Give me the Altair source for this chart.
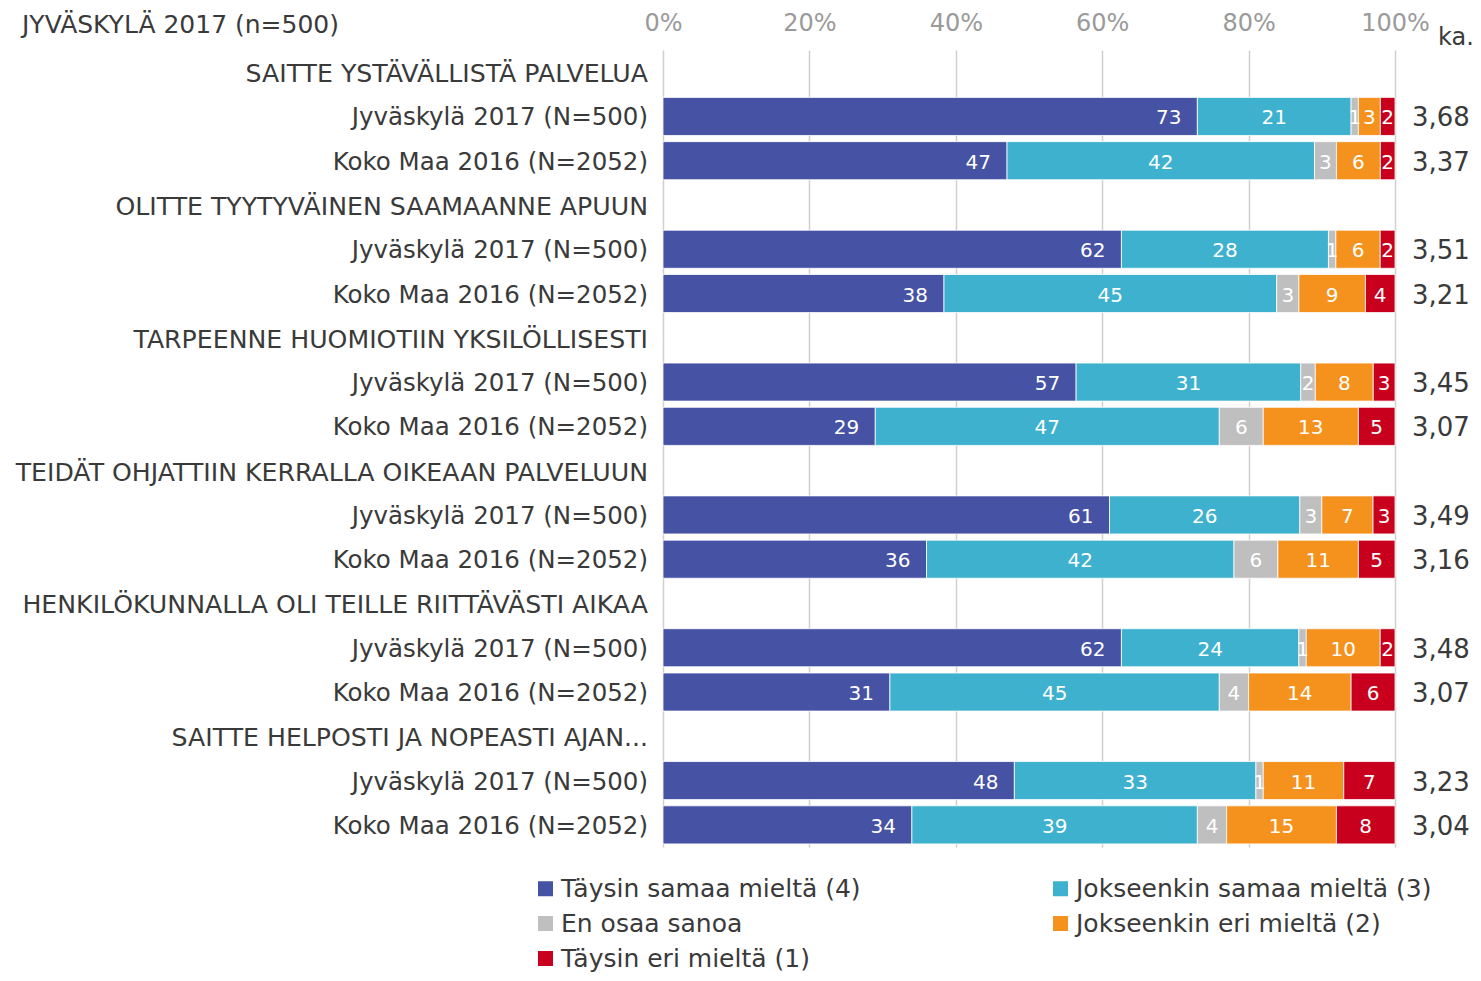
import altair as alt
import pandas as pd

title_text = "JYVÄSKYLÄ 2017 (n=500)"
questions = [
    "SAITTE YSTÄVÄLLISTÄ PALVELUA",
    "OLITTE TYYTYVÄINEN SAAMAANNE APUUN",
    "TARPEENNE HUOMIOTIIN YKSILÖLLISESTI",
    "TEIDÄT OHJATTIIN KERRALLA OIKEAAN PALVELUUN",
    "HENKILÖKUNNALLA OLI TEILLE RIITTÄVÄSTI AIKAA",
    "SAITTE HELPOSTI JA NOPEASTI AJAN...",
]
groups = ["Jyväskylä 2017 (N=500)", "Koko Maa 2016 (N=2052)"]
categories = [
    "Täysin samaa mieltä (4)",
    "Jokseenkin samaa mieltä (3)",
    "En osaa sanoa",
    "Jokseenkin eri mieltä (2)",
    "Täysin eri mieltä (1)",
]
colors = ["#4652A3", "#3DB1CE", "#BFBFBF", "#F5921E", "#C8001E"]
jkl_values = [
    [73, 21, 1, 3, 2],
    [62, 28, 1, 6, 2],
    [57, 31, 2, 8, 3],
    [61, 26, 3, 7, 3],
    [62, 24, 1, 10, 2],
    [48, 33, 1, 11, 7],
]
koko_values = [
    [47, 42, 3, 6, 2],
    [38, 45, 3, 9, 4],
    [29, 47, 6, 13, 5],
    [36, 42, 6, 11, 5],
    [31, 45, 4, 14, 6],
    [34, 39, 4, 15, 8],
]
jkl_ka = [3.68, 3.51, 3.45, 3.49, 3.48, 3.23]
koko_ka = [3.37, 3.21, 3.07, 3.16, 3.07, 3.04]
tick_values = [0, 0.2, 0.4, 0.6, 0.8, 1.0]
ka_header = "ka."

FONT = "DejaVu Sans"
TXT = "#3a3a3a"

row_ids, label_rows, bar_rows, ka_rows = [], [], [], []
for qi, q in enumerate(questions):
    rid = f"r{len(row_ids):02d}"
    row_ids.append(rid)
    label_rows.append({"row": rid, "label": q, "kind": "header"})
    for g, vals, ka in [(groups[0], jkl_values[qi], jkl_ka[qi]),
                        (groups[1], koko_values[qi], koko_ka[qi])]:
        rid = f"r{len(row_ids):02d}"
        row_ids.append(rid)
        label_rows.append({"row": rid, "label": g, "kind": "group"})
        ka_rows.append({"row": rid, "ka": ka})
        for ci, c in enumerate(categories):
            bar_rows.append({"row": rid, "cat": c, "order": ci, "pct": vals[ci]})

bars_df = pd.DataFrame(bar_rows)
labels_df = pd.DataFrame(label_rows)
ka_df = pd.DataFrame(ka_rows)

W, H = 732, 797


def y_enc():
    return alt.Y("row:N", scale=alt.Scale(domain=row_ids, paddingInner=0.14, paddingOuter=0.07),
                 axis=None)


x_scale = alt.Scale(domain=[0, 1])

base = alt.Chart(bars_df).transform_stack(
    stack="pct", as_=["x0", "x1"], groupby=["row"],
    sort=[alt.SortField("order", order="ascending")], offset="normalize",
).transform_calculate(mid="(datum.x0 + datum.x1) / 2")

bars = base.mark_bar(stroke="white", strokeWidth=0.8).encode(
    x=alt.X("x0:Q", scale=x_scale, title=None,
            axis=alt.Axis(orient="top", values=tick_values, format="%", grid=True,
                          gridColor="#cfcfcf", gridWidth=1.5, domain=False, ticks=False,
                          labelColor="#9a9a9a", labelFontSize=24, labelFont=FONT,
                          labelPadding=15, labelFlush=False)),
    x2="x1:Q",
    y=y_enc(),
    color=alt.Color("cat:N", scale=alt.Scale(domain=categories, range=colors), title=None,
                    legend=alt.Legend(orient="none", legendX=-130, legendY=826, columns=2,
                                      direction="horizontal",
                                      columnPadding=187, rowPadding=9, symbolType="square",
                                      symbolSize=225, symbolStrokeWidth=0, labelFontSize=25,
                                      labelFont=FONT, labelColor=TXT, labelOffset=3,
                                      labelLimit=600)),
    order=alt.Order("order:Q"),
)

seg_text_first = base.transform_filter("datum.order == 0").mark_text(
    color="white", fontSize=20, font=FONT, align="right", dx=-16, dy=2
).encode(
    x=alt.X("x1:Q", scale=x_scale),
    y=y_enc(),
    text=alt.Text("pct:Q"),
)

seg_text_rest = base.transform_filter("datum.order > 0").mark_text(
    color="white", fontSize=20, font=FONT, dy=2
).encode(
    x=alt.X("mid:Q", scale=x_scale),
    y=y_enc(),
    text=alt.Text("pct:Q"),
)

ylabels = alt.Chart(labels_df).mark_text(align="right", font=FONT, color=TXT, dy=2).encode(
    x=alt.value(-15),
    y=y_enc(),
    text="label:N",
    size=alt.Size("kind:N", scale=alt.Scale(domain=["header", "group"], range=[25.2, 24.5]),
                  legend=None),
)

ka_text = alt.Chart(ka_df).transform_calculate(
    kat="replace(format(datum.ka, '.2f'), '.', ',')"
).mark_text(align="left", fontSize=26, font=FONT, color=TXT, dy=2).encode(
    x=alt.value(749),
    y=y_enc(),
    text="kat:N",
)

ka_head = alt.Chart(pd.DataFrame({"t": [ka_header]})).mark_text(
    align="left", fontSize=24, font=FONT, color=TXT
).encode(x=alt.value(775), y=alt.value(-12), text="t:N")

title_mark = alt.Chart(pd.DataFrame({"t": [title_text]})).mark_text(
    align="left", fontSize=25, font=FONT, color=TXT
).encode(x=alt.value(-641), y=alt.value(-25), text="t:N")

chart = alt.layer(bars, seg_text_first, seg_text_rest, ylabels, ka_text, ka_head,
                  title_mark).properties(
    width=W, height=H,
    autosize=alt.AutoSizeParams(type="none"),
    padding={"left": 655, "top": 42, "right": 78, "bottom": 126},
).configure_view(stroke=None)

chart.save("out.html", embed_options={"renderer": "svg", "actions": False})
